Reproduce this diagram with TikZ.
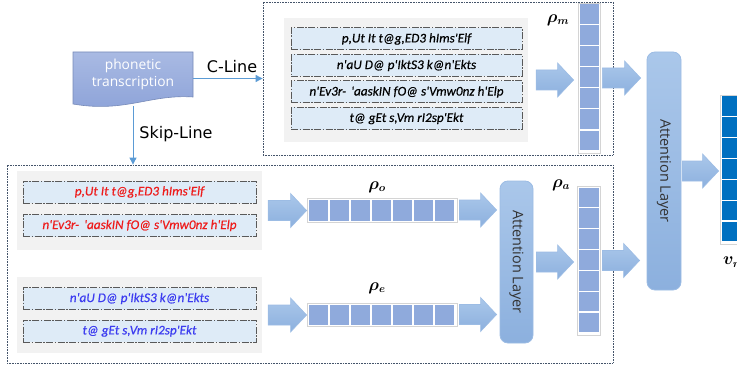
\documentclass[tikz,border=0pt]{standalone}
\usepackage{fontspec}
\usepackage{amsmath,amssymb,bm}
\usepackage{graphicx}
\setmainfont{Open Sans}
\newfontfamily\phon[ItalicFeatures={FakeBold=0.5}]{Carlito}
\newfontfamily\lbl{DejaVu Sans}
\usetikzlibrary{calc,arrows.meta}
\definecolor{boxbg}{HTML}{DEEBF7}
\definecolor{panel}{HTML}{F2F2F2}
\definecolor{cellc}{HTML}{8FAADC}
\definecolor{darkcell}{HTML}{0070C0}
\definecolor{arrA}{HTML}{AAC7EA}
\definecolor{arrB}{HTML}{8CB0DE}
\definecolor{arrD}{HTML}{9CBCE4}
\definecolor{docA}{HTML}{A9BAE3}
\definecolor{docB}{HTML}{8CA2D8}
\definecolor{lineblue}{HTML}{5B9BD5}
\definecolor{dotc}{HTML}{44546A}
\definecolor{redt}{HTML}{EE1C1C}
\definecolor{bluet}{HTML}{3C3CF0}
\definecolor{frame}{HTML}{D4D4D4}
\tikzset{
  dotbox/.style={draw=dotc, line width=0.8pt, dash pattern=on 0.8pt off 0.8pt, minimum width=#1},
  panelbox/.style={fill=panel, inner sep=0pt},
  phonbox/.style={draw=black!65, fill=boxbg, line width=1pt,
    dash pattern=on 7pt off 1.5pt on 1.5pt off 1.5pt,
    minimum height=22pt, inner sep=0pt, font=\phon\itshape\fontsize{13.2}{15}\selectfont},
  vecframe/.style={draw=frame, fill=white, line width=0.8pt, inner sep=0pt},
  blockarrow/.style={top color=arrA, bottom color=arrB, draw=arrD, line width=0.6pt},
  attn/.style={rounded corners=8pt, top color=arrA, bottom color=arrB, draw=arrD,
    line width=0.8pt, inner sep=0pt, text=black!80, font=\fontsize{14.5}{16}\selectfont},
  conn/.style={draw=lineblue, line width=0.9pt, -{Triangle[length=7pt,width=7pt]}},
  lbltext/.style={font=\lbl\fontsize{16}{18}\selectfont, text=black},
  mlabel/.style={font=\fontsize{16}{18}\selectfont, inner sep=0pt}
}
\newcommand\vvec[6]{%
  \node[vecframe, minimum width={(#4-#2)*1pt}, minimum height={(#5-#3)*1pt}] (#1) at ({(#2+#4)/2},{(#3+#5)/2}) {};
  \foreach \i in {0,...,6} {
    \pgfmathsetmacro\ya{#3+1.5+\i*(#5-#3-3)/7}
    \pgfmathsetmacro\yb{\ya+(#5-#3-3)/7-1.2}
    \fill[#6] (#2+1.5,\ya) rectangle (#4-1.5,\yb);
  }}
\newcommand\hvec[6]{%
  \node[vecframe, minimum width={(#4-#2)*1pt}, minimum height={(#5-#3)*1pt}] (#1) at ({(#2+#4)/2},{(#3+#5)/2}) {};
  \foreach \i in {0,...,6} {
    \pgfmathsetmacro\xa{#2+1.5+\i*(#4-#2-3)/7}
    \pgfmathsetmacro\xb{\xa+(#4-#2-3)/7-1.2}
    \fill[#6] (\xa,#3+1.5) rectangle (\xb,#5-1.5);
  }}
\newcommand\barrow[4]{%
  \path[blockarrow] let \p1=($(#1.east)+(#3pt,0)$), \p2=($(#2.west)+(-#4pt,0)$) in
    (\x1,\y1-10pt) -- (\x2-16pt,\y1-10pt) -- (\x2-16pt,\y1-17pt) -- (\x2,\y1)
    -- (\x2-16pt,\y1+17pt) -- (\x2-16pt,\y1+10pt) -- (\x1,\y1+10pt) -- cycle;}
\begin{document}
\begin{tikzpicture}[x=1pt,y=-1pt]
\useasboundingbox (0,0) rectangle (737,369);
% outer dotted boxes
\node[dotbox=350pt, minimum height=153pt] (topbox) at (438,78.5) {};
\node[dotbox=606pt, minimum height=198pt] (botbox) at (310,264) {};
% document shape
\shade[top color=docA, bottom color=docB, draw=docB!85!black, line width=0.6pt]
  (73,52) -- (193,52) -- (193,97) .. controls (150,94) and (125,113) .. (73,104) -- cycle;
\node[text=white, align=center, font=\fontsize{13.8}{16.5}\selectfont, inner sep=0pt,
  minimum width=120pt, minimum height=46pt] (doc) at (133,74.5) {phonetic\\transcription};
\coordinate (docbot) at (133,106);
% connectors
\draw[conn] (doc.east |- topbox.west) -- (topbox.west);
\node[lbltext] (cline) at (232,67) {C-Line};
\draw[conn] (docbot) -- (docbot |- botbox.north);
\node[lbltext] (skip) at (176,134) {Skip-Line};
% top panel
\node[panelbox, minimum width=244pt, minimum height=124pt] (tp) at (406,80) {};
\node[phonbox, minimum width=231pt] (t1) at (406.5,39) {p,Ut It t@g,ED3 hIms'Elf};
\node[phonbox, minimum width=231pt] (t2) at (406.5,65.5) {n'aU D@ p'IktS3 k@n'Ekts};
\node[phonbox, minimum width=231pt] (t3) at (406.5,92) {n'Ev3r-\hspace{2pt} 'aaskIN fO@ s'Vmw0nz h'Elp};
\node[phonbox, minimum width=231pt] (t4) at (406.5,118.5) {t@ gEt s,Vm rI2sp'Ekt};
% bottom panels
\node[panelbox, minimum width=245pt, minimum height=79pt] (bp1) at (139.5,210.5) {};
\node[panelbox, minimum width=245pt, minimum height=76pt] (bp2) at (139.5,315) {};
\node[phonbox, minimum width=233pt, text=redt] (r1) at (139.5,192) {p,Ut It t@g,ED3 hIms'Elf};
\node[phonbox, minimum width=233pt, text=redt] (r2) at (139.5,225.5) {n'Ev3r-\hspace{2pt} 'aaskIN fO@ s'Vmw0nz h'Elp};
\node[phonbox, minimum width=233pt, text=bluet] (b1) at (139.5,298.5) {n'aU D@ p'IktS3 k@n'Ekts};
\node[phonbox, minimum width=233pt, text=bluet] (b2) at (139.5,331) {t@ gEt s,Vm rI2sp'Ekt};
% vectors
\vvec{rm}{578}{3}{600}{153}{cellc}
\vvec{ra}{577}{186}{600}{335}{cellc}
\hvec{ro}{307}{198}{457}{222}{cellc}
\hvec{re}{307}{303}{457}{326}{cellc}
\vvec{vr}{720}{95}{742}{244}{darkcell}
\node[mlabel] (lrm) at (558,20) {$\boldsymbol{\rho}_{\boldsymbol{m}}$};
\node[mlabel] (lra) at (561,185) {$\boldsymbol{\rho}_{\boldsymbol{a}}$};
\node[mlabel] (lro) at (377,187) {$\boldsymbol{\rho}_{\boldsymbol{o}}$};
\node[mlabel] (lre) at (377,288) {$\boldsymbol{\rho}_{\boldsymbol{e}}$};
\node[mlabel, anchor=west] (lvr) at (723,262) {$\boldsymbol{v}_{\boldsymbol{r}}$};
% attention layers
\node[attn, minimum width=33pt, minimum height=162pt] (atts) at (516.5,262) {\rotatebox{-90}{Attention Layer}};
\node[attn, minimum width=34pt, minimum height=238pt] (attb) at (664,171) {\rotatebox{-90}{Attention Layer}};
% block arrows
\barrow{tp}{rm}{8}{4}
\barrow{rm}{attb}{2}{6}
\barrow{attb}{vr}{1}{1}
\barrow{bp1}{ro}{6}{0}
\barrow{bp2}{re}{6}{0}
\barrow{ro}{atts}{2}{3}
\barrow{re}{atts}{2}{3}
\barrow{atts}{ra}{3}{3}
\barrow{ra}{attb}{2}{7}
\end{tikzpicture}
\end{document}
